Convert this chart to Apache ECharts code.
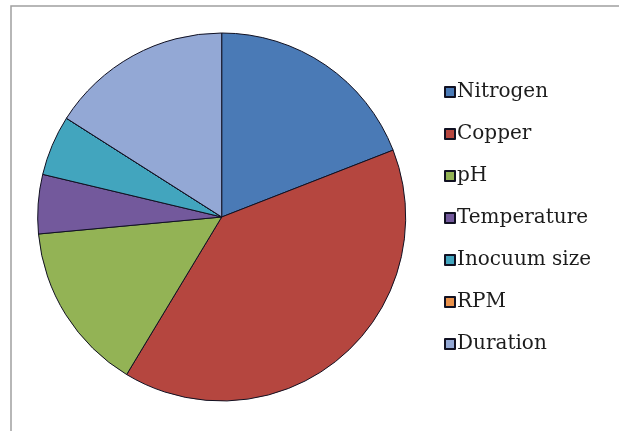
<!DOCTYPE html>
<html>
<head>
<meta charset="utf-8">
<style>
  html, body { margin: 0; padding: 0; background: #ffffff; }
  #chart { width: 619px; height: 431px; }
</style>
<script src="https://cdn.jsdelivr.net/npm/echarts@6/dist/echarts.min.js"></script>
</head>
<body>
<div id="chart"></div>
<script>
// Factors and their share of the whole (percent)
const categories = ['Nitrogen', 'Copper', 'pH', 'Temperature', 'Inocuum size', 'RPM', 'Duration'];
const values = [19.1, 39.6, 14.9, 5.2, 5.3, 0, 16.0];
const colors = ['#4a7ab6', '#b5463f', '#93b355', '#73599c', '#42a5be', '#e8914b', '#93a8d5'];

const chart = echarts.init(document.getElementById('chart'), null, { renderer: 'canvas' });

chart.setOption({
  animation: false,
  backgroundColor: '#ffffff',
  color: colors,
  graphic: [{
    type: 'rect',
    shape: { x: 11, y: 6, width: 640, height: 460 },
    style: { fill: 'none', stroke: '#a0a0a0', lineWidth: 1.5 },
    silent: true,
    z: -1
  }],
  legend: {
    orient: 'vertical',
    left: 444,
    top: 82,
    padding: 0,
    itemWidth: 10,
    itemHeight: 10,
    itemGap: 22,
    icon: 'rect',
    textStyle: {
      fontFamily: 'DejaVu Serif',
      fontSize: 20,
      color: '#1c1c1c',
      padding: [0, 0, 0, -3]
    },
    data: categories
  },
  series: [{
    type: 'pie',
    center: [221.7, 217],
    radius: 184,
    startAngle: 90,
    clockwise: true,
    avoidLabelOverlap: false,
    label: { show: false },
    labelLine: { show: false },
    emphasis: { disabled: true },
    itemStyle: { borderColor: '#111122', borderWidth: 1 },
    data: categories.map((name, i) => ({ name: name, value: values[i] }))
  }]
});
</script>
</body>
</html>
